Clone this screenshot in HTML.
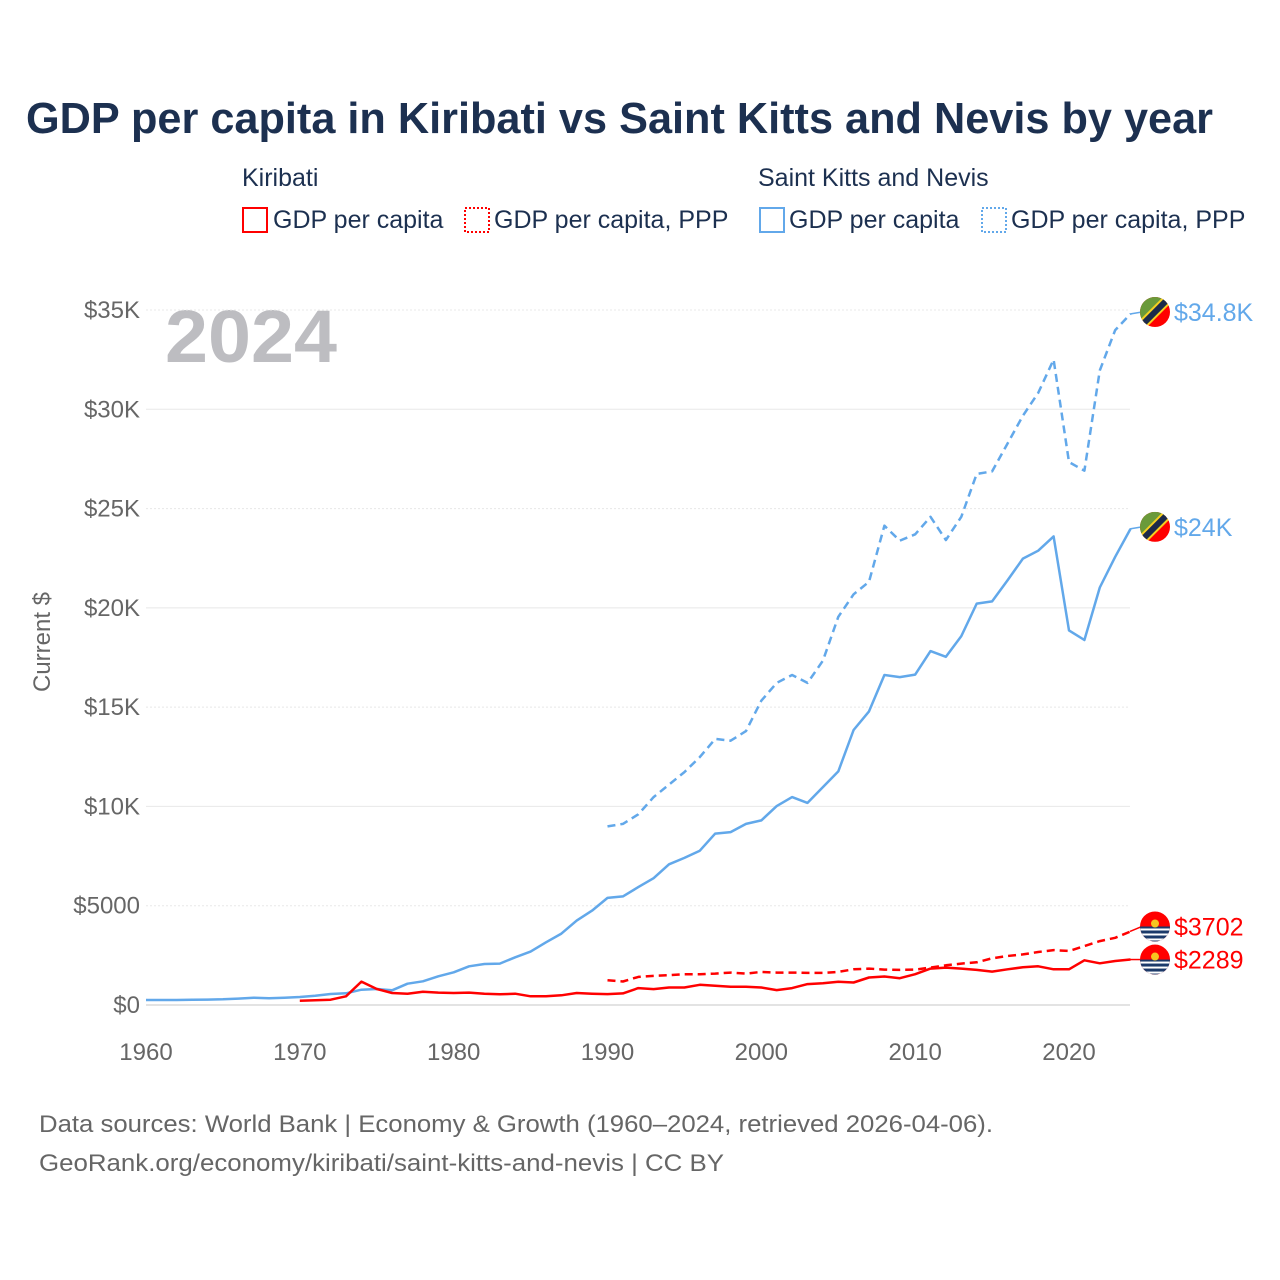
<!DOCTYPE html>
<html><head><meta charset="utf-8"><style>
html,body{margin:0;padding:0;background:#fff;}
svg{display:block;font-family:"Liberation Sans",sans-serif;}
</style></head><body>
<svg id="chart" width="1280" height="1280" viewBox="0 0 1280 1280" xmlns="http://www.w3.org/2000/svg">
<text x="26" y="133" font-size="44" font-weight="bold" fill="#1c3050" textLength="1187" lengthAdjust="spacingAndGlyphs">GDP per capita in Kiribati vs Saint Kitts and Nevis by year</text>
<g font-size="25" fill="#1c3050">
<text x="242" y="186" fill="#1c3050">Kiribati</text>
<text x="758" y="186" fill="#1c3050">Saint Kitts and Nevis</text>
<g><rect x="243" y="208" width="24" height="24" fill="none" stroke="#f00" stroke-width="2"/><text x="273" y="228" fill="#1c3050">GDP per capita</text></g>
<g><rect x="465" y="208" width="24" height="24" fill="none" stroke="#f00" stroke-width="2" stroke-dasharray="2,2"/><text x="494" y="228" fill="#1c3050">GDP per capita, PPP</text></g>
<g><rect x="760" y="208" width="24" height="24" fill="none" stroke="#62a8ea" stroke-width="2"/><text x="789" y="228" fill="#1c3050">GDP per capita</text></g>
<g><rect x="982" y="208" width="24" height="24" fill="none" stroke="#62a8ea" stroke-width="2" stroke-dasharray="2,2"/><text x="1011" y="228" fill="#1c3050">GDP per capita, PPP</text></g>
</g>
<text x="165" y="362" font-size="74" font-weight="bold" fill="#bdbdc1" textLength="172" lengthAdjust="spacingAndGlyphs">2024</text>
<text transform="translate(50,642) rotate(-90)" text-anchor="middle" font-size="24" fill="#666">Current $</text>
<g id="grid"></g><g id="axes"></g><g id="series"></g><g id="labels"></g>
<text x="39" y="1132" font-size="24" fill="#666" textLength="954" lengthAdjust="spacingAndGlyphs">Data sources: World Bank | Economy &amp; Growth (1960–2024, retrieved 2026-04-06).</text>
<text x="39" y="1171" font-size="24" fill="#666" textLength="685" lengthAdjust="spacingAndGlyphs">GeoRank.org/economy/kiribati/saint-kitts-and-nevis | CC BY</text>
</svg>
<script>
const yTicks = [0,5000,10000,15000,20000,25000,30000,35000];
const yTickLabels = ["$0","$5000","$10K","$15K","$20K","$25K","$30K","$35K"];
const xTicks = [1960,1970,1980,1990,2000,2010,2020];
const sknYears = [1960,1961,1962,1963,1964,1965,1966,1967,1968,1969,1970,1971,1972,1973,1974,1975,1976,1977,1978,1979,1980,1981,1982,1983,1984,1985,1986,1987,1988,1989,1990,1991,1992,1993,1994,1995,1996,1997,1998,1999,2000,2001,2002,2003,2004,2005,2006,2007,2008,2009,2010,2011,2012,2013,2014,2015,2016,2017,2018,2019,2020,2021,2022,2023,2024];
const sknGdp = [252,252,252,260,270,285,320,370,336,370,403,470,554,588,773,806,739,1075,1193,1445,1646,1949,2066,2083,2402,2688,3158,3595,4250,4754,5394,5469,5937,6386,7086,7408,7769,8632,8707,9120,9297,10017,10470,10178,10973,11764,13850,14785,16619,16512,16640,17823,17535,18578,20214,20325,21383,22481,22879,23599,18865,18381,21025,22571,23977];
const pppYears = [1990,1991,1992,1993,1994,1995,1996,1997,1998,1999,2000,2001,2002,2003,2004,2005,2006,2007,2008,2009,2010,2011,2012,2013,2014,2015,2016,2017,2018,2019,2020,2021,2022,2023,2024];
const sknPpp = [8994,9120,9604,10470,11100,11729,12485,13401,13310,13794,15325,16221,16619,16221,17339,19550,20683,21313,24138,23383,23705,24586,23417,24586,26746,26872,28272,29677,30826,32502,27340,26907,31958,33990,34800];
const kirYears = [1970,1971,1972,1973,1974,1975,1976,1977,1978,1979,1980,1981,1982,1983,1984,1985,1986,1987,1988,1989,1990,1991,1992,1993,1994,1995,1996,1997,1998,1999,2000,2001,2002,2003,2004,2005,2006,2007,2008,2009,2010,2011,2012,2013,2014,2015,2016,2017,2018,2019,2020,2021,2022,2023,2024];
const kirGdp = [218,235,269,437,1176,806,605,571,672,622,605,622,571,538,571,437,437,487,605,571,550,583,850,800,883,883,1017,967,917,917,883,750,850,1050,1100,1167,1133,1383,1433,1350,1550,1833,1883,1833,1767,1683,1800,1900,1950,1800,1800,2250,2100,2217,2289];
const kirPpp = [1250,1183,1417,1467,1500,1550,1550,1583,1633,1583,1667,1633,1633,1617,1617,1667,1800,1833,1783,1767,1783,1883,2000,2083,2150,2350,2467,2550,2667,2767,2717,2967,3217,3383,3702];

const NS='http://www.w3.org/2000/svg';
function xs(yr){return 146+(yr-1960)*(1069-146)/60;}
function ys(v){return 1005-v*(695/35000);}
function mk(tag,attrs,parent){const e=document.createElementNS(NS,tag);for(const k in attrs)e.setAttribute(k,attrs[k]);parent.appendChild(e);return e;}
const grid=document.getElementById('grid'),axes=document.getElementById('axes'),series=document.getElementById('series'),labels=document.getElementById('labels');
yTicks.forEach((t,i)=>{
  const l=mk('line',{x1:146,x2:1130,y1:ys(t),y2:ys(t),stroke:t===0?'#e3e3e3':'#e8e8e8','stroke-width':t===0?2:1,'stroke-dasharray':(i%2===1)?'2,2':'none'},grid);
  
  
  const tx=mk('text',{x:140,y:ys(t)+8,'text-anchor':'end','font-size':24,fill:'#666'},axes);
  tx.textContent=yTickLabels[i];
  
  
});
xTicks.forEach(t=>{
  const tx=mk('text',{x:xs(t),y:1060,'text-anchor':'middle','font-size':24,fill:'#666'},axes);
  tx.textContent=String(t);
  
  
});
function line(years,vals,color,dash,name){
  const d=years.map((y,i)=>(i?'L':'M')+xs(y).toFixed(1)+','+ys(vals[i]).toFixed(1)).join(' ');
  const p=mk('path',{d:d,fill:'none',stroke:color,'stroke-width':2.5,'stroke-linejoin':'round','stroke-dasharray':dash},series);
  
  
}
line(sknYears,sknGdp,'#62a8ea','none','skn-gdp-line');
line(pppYears,sknPpp,'#62a8ea','8,5','skn-ppp-line');
line(kirYears,kirGdp,'#ff0000','none','kir-gdp-line');
line(pppYears,kirPpp,'#ff0000','8,5','kir-ppp-line');
function flagSkn(cx,cy){
  const g=mk('g',{},labels);
  
  
  const id='c'+Math.round(cy);
  const cp=mk('clipPath',{id:id},g);mk('circle',{cx:cx,cy:cy,r:15},cp);
  const gg=mk('g',{'clip-path':'url(#'+id+')'},g);
  mk('rect',{x:cx-15,y:cy-15,width:30,height:30,fill:'#f00'},gg);
  mk('polygon',{points:`${cx-15},${cy-15} ${cx+15},${cy-15} ${cx-15},${cy+15}`,fill:'#6a9a3a'},gg);
  mk('line',{x1:cx-16,y1:cy+16,x2:cx+16,y2:cy-16,stroke:'#f5d020','stroke-width':10},gg);
  mk('line',{x1:cx-16,y1:cy+16,x2:cx+16,y2:cy-16,stroke:'#1c2a4a','stroke-width':6},gg);
}
function flagKir(cx,cy){
  const g=mk('g',{},labels);
  
  
  const id='k'+Math.round(cy);
  const cp=mk('clipPath',{id:id},g);mk('circle',{cx:cx,cy:cy,r:15},cp);
  const gg=mk('g',{'clip-path':'url(#'+id+')'},g);
  mk('rect',{x:cx-15,y:cy-15,width:30,height:30,fill:'#f00'},gg);
  mk('rect',{x:cx-15,y:cy,width:30,height:15,fill:'#1c3a6a'},gg);
  for(let k=0;k<3;k++)mk('rect',{x:cx-15,y:cy+2+k*5,width:30,height:2,fill:'#fff'},gg);
  mk('circle',{cx:cx,cy:cy-3,r:4,fill:'#f7c520'},gg);
}
function endLabel(v,txt,color,dy,isSkn){
  const y=ys(v)+dy;
  mk('line',{x1:1130,x2:1142,y1:ys(v),y2:y,stroke:color,'stroke-width':1.5},labels);
  if(isSkn)flagSkn(1155,y);else flagKir(1155,y);
  const t=mk('text',{x:1174,y:y+9,'font-size':25,fill:color},labels);
  t.textContent=txt;
  
  
}
endLabel(sknPpp[sknPpp.length-1],'$34.8K','#62a8ea',-2,true);
endLabel(sknGdp[sknGdp.length-1],'$24K','#62a8ea',-2,true);
endLabel(kirPpp[kirPpp.length-1],'$3702','#ff0000',-5,false);
endLabel(kirGdp[kirGdp.length-1],'$2289','#ff0000',0,false);
</script>
</body></html>
